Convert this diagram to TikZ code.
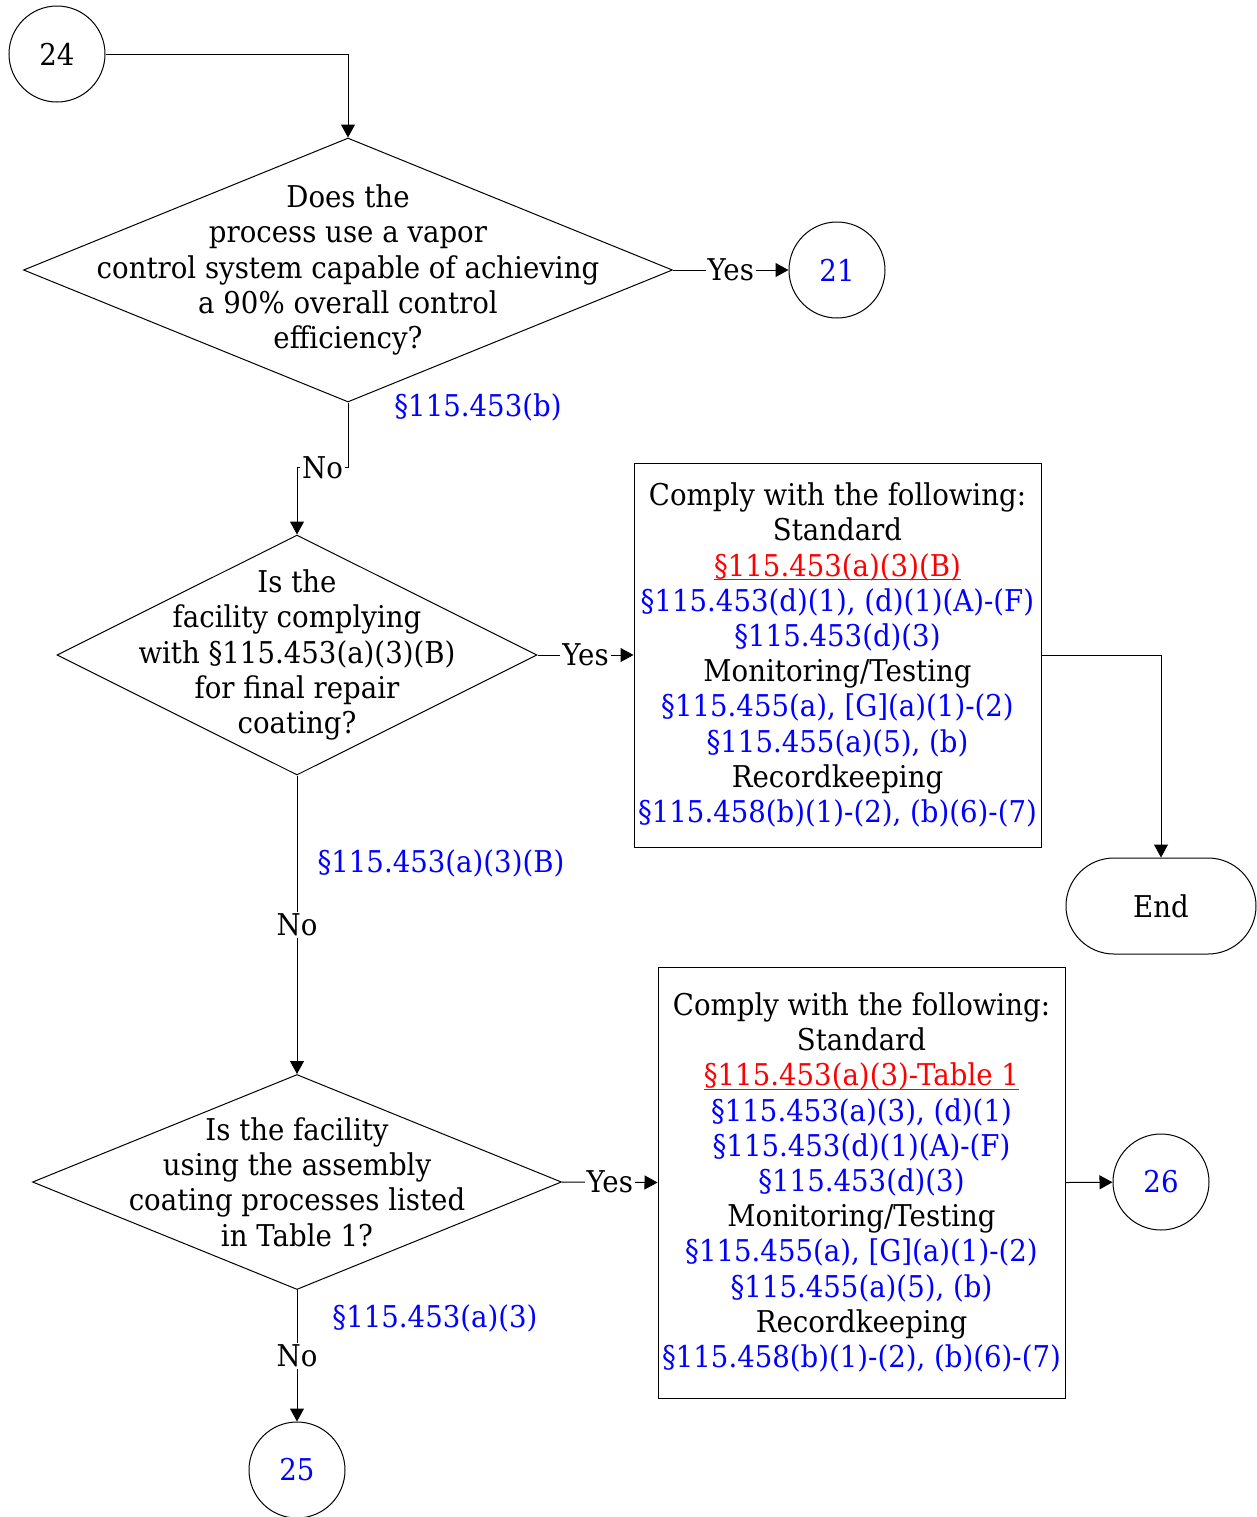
\documentclass[tikz,border=0pt]{standalone}
\usepackage{fontspec}
\setmainfont{DejaVu Serif}[FakeStretch=0.92]
\usepackage{tikz}
\usetikzlibrary{shapes.geometric,shapes.misc,arrows.meta}
\definecolor{refblue}{RGB}{0,0,255}
\definecolor{refred}{RGB}{255,0,0}
\newcommand{\rf}[1]{\textcolor{refblue}{#1}}
\newcommand{\rfstd}[1]{\textcolor{refred}{\setbox0\hbox{#1}\rlap{\rule[-2pt]{\wd0}{0.6pt}}\box0}}

\begin{document}
\begin{tikzpicture}[x=0.5pt,y=-0.5pt,line width=0.5pt,
  font=\fontsize{15pt}{17.6pt}\selectfont,
  >={Triangle[length=6.5pt,width=7pt]},
  conn/.style={circle,draw,minimum size=48pt,inner sep=0pt},
  decision/.style={diamond,draw,inner sep=0pt},
  todo/.style={draw,align=center,inner xsep=1pt,minimum width=203.5pt},
  lbl/.style={fill=white,inner sep=1pt}]
\useasboundingbox (0,0) rectangle (1257,1517);

\node[conn] (c24) at (57,54) {24};
\node[decision,minimum width=324.5pt,minimum height=132pt,
  label={[align=center]center:Does the\\process use a vapor\\control system capable of achieving\\a 90\% overall control\\efficiency?}] (q1) at (348,270) {};
\node[conn] (c21) at (837,270) {\rf{21}};
\node (r1) at (478,407) {\rf{§115.453(b)}};

\node[decision,minimum width=240pt,minimum height=120pt,
  label={[align=center]center:Is the\\facility complying\\with §115.453(a)(3)(B)\\for final repair\\coating?}] (q2) at (297,655) {};
\node[todo,minimum height=192pt] (b1) at (837.5,655)
  {Comply with the following:\\Standard\\\rfstd{§115.453(a)(3)(B)}\\\rf{§115.453(d)(1), (d)(1)(A)-(F)}\\\rf{§115.453(d)(3)}\\
   Monitoring/Testing\\\rf{§115.455(a), [G](a)(1)-(2)}\\\rf{§115.455(a)(5), (b)}\\Recordkeeping\\\rf{§115.458(b)(1)-(2), (b)(6)-(7)}};
\node[rounded rectangle,draw,minimum width=95pt,minimum height=48pt,inner sep=0pt] (end) at (1161,906) {End};
\node (r2) at (441,863) {\rf{§115.453(a)(3)(B)}};

\node[decision,minimum width=264.5pt,minimum height=107.5pt,
  label={[align=center]center:Is the facility\\using the assembly\\coating processes listed\\in Table 1?}] (q3) at (297,1182) {};
\node[todo,minimum height=215.5pt] (b2) at (861.5,1182.5)
  {Comply with the following:\\Standard\\\rfstd{§115.453(a)(3)-Table 1}\\\rf{§115.453(a)(3), (d)(1)}\\\rf{§115.453(d)(1)(A)-(F)}\\\rf{§115.453(d)(3)}\\
   Monitoring/Testing\\\rf{§115.455(a), [G](a)(1)-(2)}\\\rf{§115.455(a)(5), (b)}\\Recordkeeping\\\rf{§115.458(b)(1)-(2), (b)(6)-(7)}};
\node[conn] (c26) at (1161,1182) {\rf{26}};
\node (r3) at (435,1318) {\rf{§115.453(a)(3)}};
\node[conn] (c25) at (297,1470) {\rf{25}};

% connectors
\draw[->] (c24.east) -| (q1.north);
\draw[->] (q1.east) -- node[lbl]{Yes} (c21);
\draw[->] (q1.south) -- ++(0,65) -| node[lbl,pos=0.25]{No} (q2.north);
\draw[->] (q2.east) -- node[lbl]{Yes} (b1.west);
\draw[->] (b1.east) -| (end.north);
\draw[->] (q2.south) -- node[lbl]{No} (q3.north);
\draw[->] (q3.east) -- node[lbl]{Yes} (b2.west);
\draw[->] (b2.east) -- (c26);
\draw[->] (q3.south) -- node[lbl]{No} (c25);
\end{tikzpicture}
\end{document}
